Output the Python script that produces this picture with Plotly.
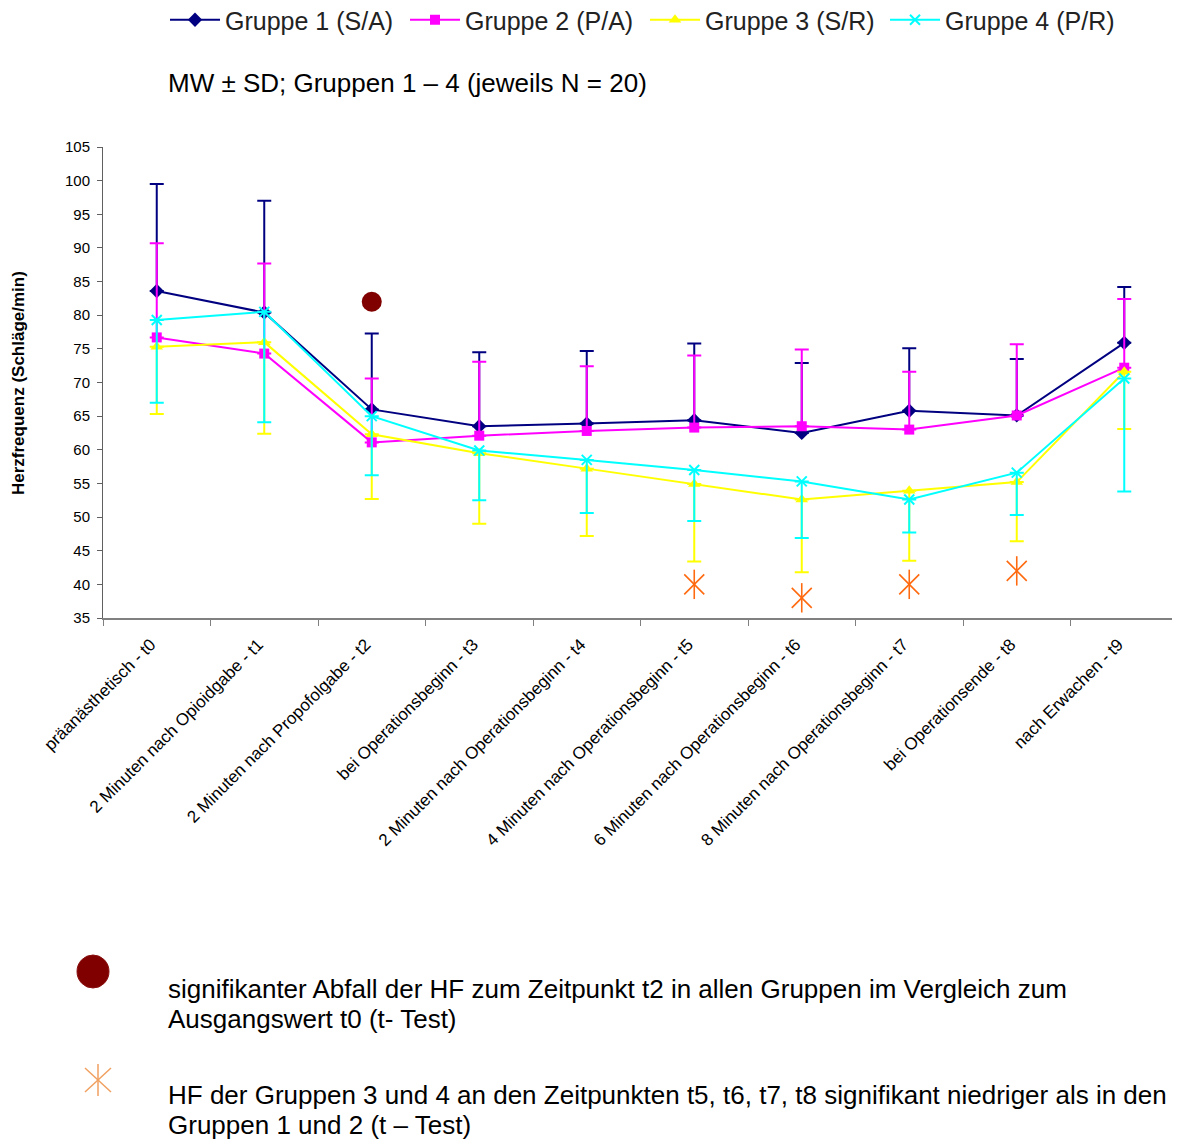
import plotly.graph_objects as go

categories = ["präanästhetisch - t0", "2 Minuten nach Opioidgabe - t1",
              "2 Minuten nach Propofolgabe - t2", "bei Operationsbeginn - t3",
              "2 Minuten nach Operationsbeginn - t4", "4 Minuten nach Operationsbeginn - t5",
              "6 Minuten nach Operationsbeginn - t6", "8 Minuten nach Operationsbeginn - t7",
              "bei Operationsende - t8", "nach Erwachen - t9"]

g1_mean = [83.6, 80.4, 66.0, 63.5, 63.9, 64.4, 62.5, 65.8, 65.1, 75.9]
g1_sd = [15.9, 16.6, 11.3, 11.0, 10.8, 11.4, 10.4, 9.3, 8.4, 8.3]
g2_mean = [76.7, 74.3, 61.1, 62.1, 62.8, 63.3, 63.5, 63.0, 65.1, 72.2]
g2_sd = [14.0, 13.4, 9.5, 11.0, 9.6, 10.7, 11.4, 8.6, 10.6, 10.2]
g3_mean = [75.3, 76.0, 62.3, 59.5, 57.2, 54.9, 52.6, 53.9, 55.2, 71.6]
g3_sd = [10.0, 13.6, 9.6, 10.5, 10.0, 11.5, 10.8, 10.4, 8.8, 8.5]
g4_mean = [79.3, 80.5, 65.0, 59.9, 58.5, 57.0, 55.3, 52.6, 56.6, 70.6]
g4_sd = [12.3, 16.4, 8.8, 7.4, 7.9, 7.6, 8.4, 4.9, 6.3, 16.8]

sig_drop_cat = ["2 Minuten nach Propofolgabe - t2"]
sig_drop_val = [82]
sig_low_cat = ["4 Minuten nach Operationsbeginn - t5", "6 Minuten nach Operationsbeginn - t6",
               "8 Minuten nach Operationsbeginn - t7", "bei Operationsende - t8"]
sig_low_val = [40, 38, 40, 42]

FONT = "Liberation Sans, Arial, sans-serif"
ORANGE = "#FF6A10"
fig = go.Figure()

def add_group(name, mean, sd, color, symbol, upper, msize=10, mline=None):
    zeros = [0] * len(mean)
    err = dict(type="data", symmetric=False,
               array=sd if upper else zeros,
               arrayminus=zeros if upper else sd,
               color=color, thickness=2, width=7)
    marker = dict(symbol=symbol, size=msize, color=color)
    if mline:
        marker["line"] = dict(color=color, width=mline)
    fig.add_trace(go.Scatter(x=categories, y=mean, name=name, mode="lines+markers",
                             line=dict(color=color, width=2), marker=marker,
                             error_y=err))

add_group("Gruppe 1 (S/A)", g1_mean, g1_sd, "#000080", "diamond", True, 11)
add_group("Gruppe 2 (P/A)", g2_mean, g2_sd, "#FF00FF", "square", True, 10)
add_group("Gruppe 3 (S/R)", g3_mean, g3_sd, "#FFFF00", "triangle-up", False, 11)
add_group("Gruppe 4 (P/R)", g4_mean, g4_sd, "#00FFFF", "x-thin-open", False, 10, 2)

fig.add_trace(go.Scatter(x=sig_drop_cat, y=sig_drop_val, mode="markers", showlegend=False,
                         marker=dict(symbol="circle", size=20, color="#800000")))
fig.add_trace(go.Scatter(x=sig_low_cat, y=sig_low_val, mode="markers", showlegend=False,
                         marker=dict(symbol="x-thin-open", size=20, color=ORANGE,
                                     line=dict(color=ORANGE, width=1.6))))
fig.add_trace(go.Scatter(x=sig_low_cat, y=sig_low_val, mode="markers", showlegend=False,
                         marker=dict(symbol="line-ns-open", size=21, color=ORANGE,
                                     line=dict(color=ORANGE, width=1.6))))

# page offset (browser body margin)
OFF = 8
FW, FH = 1180 - OFF, 1140 - OFF
L, T, R, B = 103 - OFF, 147 - OFF, 1178 - OFF, 618 - OFF
def px(x):
    return (x - OFF - L) / (R - L)
def py(y):
    return (B - (y - OFF)) / (B - T)

def text_line(s, x, y, size):
    return dict(text=s, x=px(x), y=py(y), xref="paper", yref="paper", xanchor="left",
                yanchor="middle", showarrow=False, font=dict(size=size, color="black", family=FONT))

annotations = [
    text_line("MW ± SD; Gruppen 1 – 4 (jeweils N = 20)", 166, 83, 26),
    dict(text="<b>Herzfrequenz (Schläge/min)</b>", x=px(18), y=py(383), textangle=-90,
         xref="paper", yref="paper", xanchor="center", yanchor="middle", showarrow=False,
         font=dict(size=17, color="black", family=FONT)),
    text_line("signifikanter Abfall der HF zum Zeitpunkt t2 in allen Gruppen im Vergleich zum", 166, 989, 26),
    text_line("Ausgangswert t0 (t- Test)", 166, 1019, 26),
    text_line("HF der Gruppen 3 und 4 an den Zeitpunkten t5, t6, t7, t8 signifikant niedriger als in den", 166, 1095, 26),
    text_line("Gruppen 1 und 2 (t – Test)", 166, 1125, 26),
]

shapes = [
    dict(type="circle", xref="paper", yref="paper", x0=px(77), x1=px(109), y0=py(988), y1=py(955),
         fillcolor="#800000", line=dict(color="#8a1010", width=1)),
    dict(type="line", xref="paper", yref="paper", x0=px(98), x1=px(98), y0=py(1064), y1=py(1096),
         line=dict(color="#F0A060", width=1.5)),
    dict(type="line", xref="paper", yref="paper", x0=px(85), x1=px(111), y0=py(1068), y1=py(1092),
         line=dict(color="#F0A060", width=1.5)),
    dict(type="line", xref="paper", yref="paper", x0=px(85), x1=px(111), y0=py(1092), y1=py(1068),
         line=dict(color="#F0A060", width=1.5)),
]

fig.update_layout(
    width=FW, height=FH,
    margin=dict(l=L, r=FW - R, t=T, b=FH - B, autoexpand=False),
    paper_bgcolor="white", plot_bgcolor="white",
    font=dict(family=FONT, color="black"),
    showlegend=True,
    legend=dict(orientation="h", xref="container", yref="container",
                x=(165 - OFF) / FW, xanchor="left", y=1 - (20 - OFF) / FH, yanchor="middle",
                font=dict(size=25, family=FONT, color="#222"), bgcolor="rgba(0,0,0,0)",
                entrywidth=175, entrywidthmode="pixels", itemwidth=50, tracegroupgap=0),
    xaxis=dict(type="category", categoryorder="array", categoryarray=categories,
               range=[-0.5, 9.5], tickangle=-45, tickson="boundaries", ticks="outside",
               ticklen=6, tickcolor="#808080", showline=True, linecolor="#808080", linewidth=2,
               showgrid=False, zeroline=False, ticklabelshift=-6, ticklabelstandoff=8,
               tickfont=dict(size=17, family=FONT, color="black")),
    yaxis=dict(range=[35, 105], dtick=5, ticks="outside", ticklen=5, tickcolor="#606060",
               showline=True, linecolor="#606060", linewidth=1, showgrid=False, zeroline=False,
               ticklabelstandoff=4, tickfont=dict(size=15, family=FONT, color="black")),
    annotations=annotations, shapes=shapes,
)

fig.write_html("out.html")
